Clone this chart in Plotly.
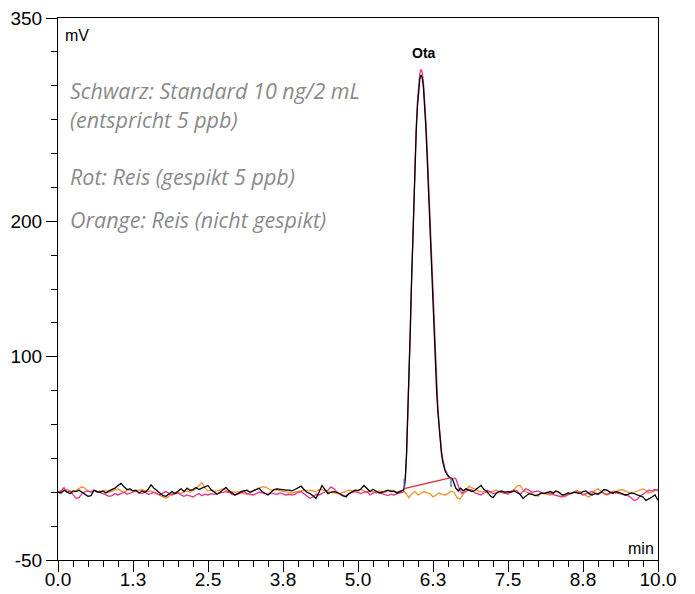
import numpy as np
import plotly.graph_objects as go

# ---------------- data ----------------
# common time grid (min), 0.00 .. 10.00 in steps of 0.05
t_grid = np.round(np.arange(0, 201) * 0.05, 2)

# Schwarz: Standard (mV) -- None inside the peak window (given below in fine resolution)
black_base = [
    0, -0.5, 1.5, 0.5, -1, 1, 0.5, 1.5, 0, -1, -3, -2.5, 1.5, 0.5, 0, 1, -0.5, 1, 2, 3,
    5, 6.5, 4, 2, 2.5, 1, 1.5, -0.5, 1, 0, 2, 5.5, 3, 1, -0.5, -2.5, -3, -1, 0.5, -1,
    1, 2.5, 0.5, 3, 1.5, 2, 3.5, 2, 3, 4, 5, 2, 0.5, -1.5, 0, 1.5, 3.5, 1, -0.5, -2,
    -1, 0.5, 1, 1.5, 0, 1, 2.5, 3, 0.5, -1, -2, 0, 2, 2.5, 2, 2, 1.5, 1.5, 1, 2,
    3, 4.5, 2, 0, -1, -2.5, -4.5, 0, 5, 2, -1, 0, 0.5, 0, -1, -2.5, -3.5, -1, 0.5, 1.5,
    1, 2.5, 5, 3, 0.5, 2, 1, -0.5, 0, 1, 1.5, 0.5, 1, -0.5, 0.5, None, None, None, None, None,
    None, None, None, None, None, None, None, None, None, None, None, None, None, None, None, None, 2.5, 1.5, 0.5, 1.5,
    3.5, 5, 2, 0.5, -2.5, -4, -1, 0.5, 1, 0, 0.5, 0, 1, 0, -1.5, -4.5, -3, -1, -1.5, -2.5,
    -2, -0.5, -1, 0, 0.5, -0.5, 1, 0, -2, -1.5, -0.5, -1, 0, -0.5, -1, 0.5, 1, -1, -2, -1,
    -1.5, 0, 2, 1.5, 0, -0.5, 0.5, 0, -1, -2, -1.5, -0.5, -1, -2, -2.5, -3.5, -6, -5, -3.5, -2,
    -6,
]

# Rot: Reis gespikt (mV)
pink_base = [
    0, 1, 3.5, 0, 1, -2, -4.5, -4, -1, 0.5, 1, 0, 1.5, 0.5, 0, -1, -2, -3, -2.5, -1,
    -2, -1, 0, -1.5, -0.5, 0.5, 1, -0.5, -1, 0, -1.5, -1, 0, -1, -2, -0.5, 0.5, -1, -2, -1,
    -0.5, -2, -3, -2, -2.5, -3.5, -2, -1, -2.5, -1.5, -2, -1, -1.5, -1, -1, 0, 0.5, 0, -1.5, -2,
    -1.5, -0.5, 0.5, -1, -1.5, -2, -1, 0, -0.5, -1, -1.5, -0.5, -1, -1.5, -0.5, -1, -2, -1.5, -2, -1.5,
    0, 0.5, -1, -3, -4.5, -3.5, -1.5, -2, -1, 0, 1.5, 4, 2.5, 0, -1.5, -3, -2.5, -1, 0, 0.5,
    -0.5, -1, 0, 0.5, -2, -1, 0.5, -0.5, -1, -2, -2.5, -1.5, -2, -1, -0.5, None, None, None, None, None,
    None, None, None, None, None, None, None, None, None, None, None, None, None, None, None, None, 0.5, 2, 1.5, -0.5,
    -1, -2, -0.5, 1.5, 0.5, -1, -0.5, 0.5, 0, -1, -1.5, 0.5, 1.5, 1, -1.5, 0.5, 2.5, 1.5, 0, 0.5,
    1, 0, -1, -0.5, -1, -1.5, -2, -3, -3.5, -2.5, -1.5, -0.5, 0.5, 1, -0.5, -2, -1, 0, 0.5, -0.5,
    -1, 0, -1, -1.5, -0.5, -1, -0.5, -1, -1.5, -2, -2.5, -4, -6, -5.5, -3, -1.5, 0, 1.5, 1, 2,
    1.5,
]

# Orange: Reis nicht gespikt (mV)
orange_vals = [
    0, 0.5, 1.5, 2, 1, 0, 1.5, 2.5, 4, 3, 1, 0.5, 1.5, 0, 1, 0.5, 1.5, 0, 1, 2,
    2.5, 1, 0, 1.5, 2, 1, 0.5, 1.5, 2, 1, 0.5, 1, 0, -1, -2.5, -3.5, -4.5, -3, -1, -0.5,
    0, -1, 0.5, 1, 0, 1.5, 2.5, 5, 7, 3, 1, 1.5, 0.5, 1, 2, 2.5, 1.5, 0, 0.5, 0,
    0.5, -0.5, -1, -1.5, -0.5, 1, 2, 3, 4, 4, 3, 1.5, 1.5, 2, 1, 0.5, 0, -0.5, -0.5, 0,
    0.5, 1, 1.5, 1, 1.5, 1, 0.5, 2, 2, 1, 0, 0.5, -0.5, -1, -1, 0, 1, 1.5, 1, 1.5,
    1.5, 2, 1, 0, 1, 0.5, -0.5, 1, 0.5, 0, 1, 1.5, 0.5, 0, 1, 1.5, -1, -4, -1, 0.5,
    -2, -1, 0.5, -0.5, -1, -3.5, -2, -0.5, -1.5, -2, -1, 1, 0, -4, -5, -2, 1.5, 4.5, 3, 2.5,
    1, 0.5, 0, -0.5, 0, 1, 1.5, 0.5, -0.5, -1, -0.5, 0.5, 2, 4.5, 5, 2, 0, -0.5, -1.5, -2.5,
    -3, -1, -0.5, -1.5, -2, -1, 0.5, 0, -2, -3.5, -2, -1, 0, 1, 0.5, -1.5, -2.5, -3.5, -1, 1.5,
    2.5, 0.5, -1, -2, -1, 1, 0.5, 1.5, 2, 1, 0, -1, 0, 1, 1.5, 2.5, 1.5, -0.5, 0, 1.5,
    1,
]

# peak window in fine resolution (min)
peak_t = [5.75, 5.77, 5.79, 5.81, 5.83, 5.85, 5.87, 5.89, 5.91, 5.93, 5.95, 5.97, 5.99,
          6.01, 6.03, 6.05, 6.07, 6.09, 6.11, 6.13, 6.15, 6.17, 6.19, 6.21, 6.23, 6.25,
          6.27, 6.29, 6.31, 6.33, 6.35, 6.37, 6.39, 6.41, 6.43, 6.45, 6.47, 6.49, 6.51,
          6.53, 6.55, 6.57, 6.59, 6.61, 6.63, 6.65, 6.67, 6.69, 6.71, 6.73, 6.75]
black_peak = [1.5, 3, 12, 30, 55, 85, 118, 152, 185, 216, 243, 266, 284,
              297, 305, 308, 306, 299, 287, 270, 250, 228, 204, 180, 156, 133,
              112, 92, 75, 60, 47, 37, 29, 23, 19, 16, 14, 12.5, 11.5,
              11, 10.5, 10, 8, 5, 3, 2, 1, 2, 3, 2, 1]
pink_peak = [0, 2, 10, 27, 52, 82, 116, 151, 185, 217, 245, 269, 288,
             301, 309, 312, 310, 303, 291, 275, 256, 234, 211, 187, 163, 140,
             118, 98, 80, 64, 51, 40, 31, 25, 20, 17, 15, 13, 12,
             11, 10, 9.5, 10, 10.5, 10, 8, 5, 2, 0, -1, 0]

# integration: baseline start / end (min, mV)
integ_t = [5.77, 6.55]
integ_mv = [2.7, 10.8]
marker_len_mv = [7, -7]   # vertical peak-limit markers

peak_name = "Ota"
peak_label_t = 6.1
peak_label_mv = 317

notes = ["Schwarz: Standard 10 ng/2 mL", "(entspricht 5 ppb)",
         "Rot: Reis (gespikt 5 ppb)", "Orange: Reis (nicht gespikt)"]

x_tickvals = [0, 1.25, 2.5, 3.75, 5.0, 6.25, 7.5, 8.75, 10.0]
x_ticktext = ["0.0", "1.3", "2.5", "3.8", "5.0", "6.3", "7.5", "8.8", "10.0"]
y_tickvals = [-50, 100, 200, 350]
y_ticktext = ["-50", "100", "200", "350"]

# ---------------- assemble ----------------
def merge(base, pt, pv):
    xs, ys = [], []
    for t, v in zip(t_grid, base):
        if v is not None:
            xs.append(float(t)); ys.append(v)
    xs += pt; ys += pv
    order = np.argsort(xs, kind="stable")
    return [xs[i] for i in order], [ys[i] for i in order]

bx, by = merge(black_base, peak_t, black_peak)
px_, py_ = merge(pink_base, peak_t, pink_peak)

fig = go.Figure()
lw = 1.3
fig.add_trace(go.Scatter(x=t_grid, y=orange_vals, mode="lines",
                         line=dict(color="#F39222", width=lw), hoverinfo="skip"))
fig.add_trace(go.Scatter(x=px_, y=py_, mode="lines",
                         line=dict(color="#E6338C", width=lw), hoverinfo="skip"))
fig.add_trace(go.Scatter(x=bx, y=by, mode="lines",
                         line=dict(color="#000000", width=lw), hoverinfo="skip"))
fig.add_trace(go.Scatter(x=integ_t, y=integ_mv, mode="lines",
                         line=dict(color="#E8262A", width=1.2), hoverinfo="skip"))
for t, v, d in zip(integ_t, integ_mv, marker_len_mv):
    fig.add_trace(go.Scatter(x=[t, t], y=[v, v + d], mode="lines",
                             line=dict(color="#3D63C8", width=1.3), hoverinfo="skip"))

axis_font = dict(family="Liberation Sans, Arial, sans-serif", size=19, color="#000")

fig.update_layout(
    width=695, height=594,
    margin=dict(l=58, r=37, t=18, b=34, pad=0, autoexpand=False),
    paper_bgcolor="white", plot_bgcolor="white",
    showlegend=False,
    xaxis=dict(range=[0, 10], tickvals=x_tickvals, ticktext=x_ticktext,
               automargin=False, ticklabelstandoff=-9,
               showgrid=False, zeroline=False, showline=True, mirror=True,
               linecolor="#000", linewidth=1, ticks="outside", ticklen=11,
               tickwidth=1, tickcolor="#000", tickfont=axis_font,
               minor=dict(tick0=0, dtick=0.25, ticks="outside", ticklen=6,
                          tickwidth=1, tickcolor="#000", showgrid=False)),
    yaxis=dict(range=[-50, 350], tickvals=y_tickvals, ticktext=y_ticktext,
               automargin=False,
               showgrid=False, zeroline=False, showline=True, mirror=True,
               linecolor="#000", linewidth=1, ticks="outside", ticklen=11,
               tickwidth=1, tickcolor="#000", tickfont=axis_font,
               minor=dict(tick0=0, dtick=25, ticks="outside", ticklen=6,
                          tickwidth=1, tickcolor="#000", showgrid=False)),
)

lbl_font = dict(family="Liberation Sans, Arial, sans-serif", size=16, color="#000")
fig.add_annotation(xref="paper", yref="paper", x=0.008, y=0.968, text="mV",
                   showarrow=False, xanchor="left", yanchor="middle", font=lbl_font)
fig.add_annotation(xref="paper", yref="paper", x=0.997, y=0.022, text="min",
                   showarrow=False, xanchor="right", yanchor="middle", font=lbl_font)
fig.add_annotation(x=peak_label_t, y=peak_label_mv, text="<b>%s</b>" % peak_name,
                   showarrow=False, xanchor="center", yanchor="bottom",
                   font=dict(family="Liberation Sans, Arial, sans-serif", size=14, color="#000"))

note_font = dict(family="Open Sans, sans-serif", size=21.5, color="#8A8A8A")
note_y = [0.866, 0.812, 0.707, 0.628]
for txt, yy in zip(notes, note_y):
    fig.add_annotation(xref="paper", yref="paper", x=0.017, y=yy, text="<i>%s</i>" % txt,
                       showarrow=False, xanchor="left", yanchor="middle", font=note_font)

fig.write_html("out.html")
